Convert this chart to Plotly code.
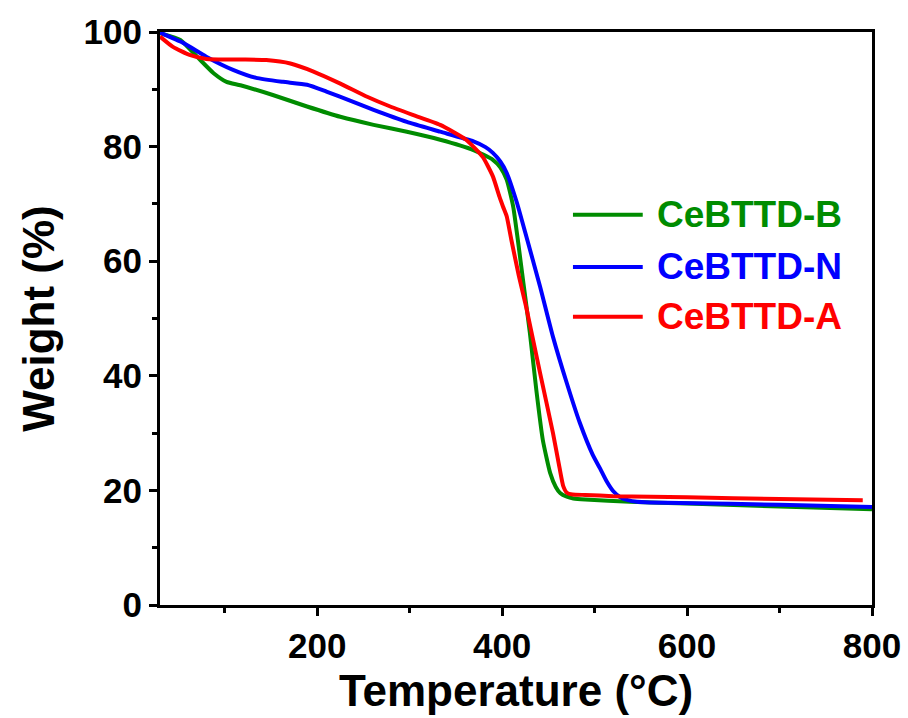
import plotly.graph_objects as go

# CeBTTD-B (green)
temp_b = [30, 52, 70, 88, 102, 117, 152, 189, 225, 261, 297, 333, 369, 390, 398, 405, 412, 417, 423, 430, 437, 444, 452, 458, 463, 470, 477, 490, 538, 600, 700, 800]
wt_b = [99.8, 98.6, 95.7, 92.8, 91.3, 90.7, 89.0, 87.0, 85.2, 83.8, 82.6, 81.2, 79.4, 77.7, 76.4, 74.2, 69.5, 63.7, 56.2, 47.5, 37.5, 28.8, 23.0, 20.6, 19.5, 18.9, 18.6, 18.4, 18.0, 17.7, 17.2, 16.7]

# CeBTTD-N (blue)
temp_n = [30, 55, 80, 109, 134, 163, 189, 210, 239, 261, 297, 333, 369, 382, 390, 398, 405, 416, 425, 441, 455, 470, 484, 498, 506, 513, 520, 527, 536, 546, 560, 592, 700, 800]
wt_n = [99.9, 98.1, 95.7, 93.4, 92.0, 91.3, 90.8, 89.6, 87.8, 86.4, 84.3, 82.6, 80.9, 79.9, 78.9, 77.4, 75.4, 70.2, 65.0, 55.6, 46.8, 38.7, 31.8, 26.2, 23.8, 21.6, 19.9, 18.9, 18.3, 18.0, 17.9, 17.8, 17.5, 17.1]

# CeBTTD-A (red)
temp_a = [30, 44, 62, 80, 117, 145, 171, 196, 225, 254, 279, 304, 333, 361, 379, 390, 397, 401, 405, 410, 418, 426, 441, 455, 462, 466, 470, 476, 490, 520, 600, 700, 790]
wt_a = [99.2, 97.4, 96.0, 95.3, 95.2, 95.1, 94.5, 93.1, 91.0, 88.7, 87.0, 85.5, 83.8, 81.2, 78.2, 74.8, 71.3, 69.5, 67.8, 63.7, 57.5, 52.0, 40.5, 30.0, 24.0, 20.8, 19.6, 19.3, 19.2, 19.0, 18.8, 18.5, 18.3]

names = ["CeBTTD-B", "CeBTTD-N", "CeBTTD-A"]
colors = ["rgb(0,140,0)", "rgb(0,0,255)", "rgb(255,0,0)"]

x_ticks = [200, 400, 600, 800]
y_ticks = [0, 20, 40, 60, 80, 100]

FONT = "Liberation Sans"

fig = go.Figure()
for t, w, n, c in zip([temp_b, temp_n, temp_a], [wt_b, wt_n, wt_a], names, colors):
    fig.add_trace(go.Scatter(x=t, y=w, mode="lines", name=n,
                             line=dict(color=c, width=4, shape="spline", smoothing=0.5),
                             showlegend=False))

# custom legend (long line samples)
leg_y = [0.681, 0.590, 0.503]
for n, c, yy in zip(names, colors, leg_y):
    fig.add_shape(type="line", xref="paper", yref="paper", x0=0.580, x1=0.678, y0=yy, y1=yy,
                  line=dict(color=c, width=4))
    fig.add_annotation(xref="paper", yref="paper", x=0.695, y=yy, text=n, showarrow=False,
                       xanchor="left", yanchor="middle",
                       font=dict(family=FONT, size=37, color=c, weight="bold"))

axis_common = dict(showline=True, linecolor="black", linewidth=3, mirror=True,
                   ticks="outside", ticklen=8, tickwidth=3, tickcolor="black",
                   showgrid=False, zeroline=False, automargin=False,
                   tickfont=dict(family=FONT, size=35, color="black", weight="bold"))

fig.update_xaxes(range=[30, 800], tickvals=x_ticks, ticktext=[str(v) for v in x_ticks],
                 minor=dict(dtick=100, tick0=0, ticks="outside", ticklen=5, tickwidth=3, tickcolor="black"),
                 title=dict(text="Temperature (°C)", standoff=12,
                            font=dict(family=FONT, size=44, color="black", weight="bold")),
                 **axis_common)
fig.update_yaxes(range=[0, 100], tickvals=y_ticks, ticktext=[str(v) for v in y_ticks],
                 minor=dict(dtick=10, tick0=0, ticks="outside", ticklen=5, tickwidth=3, tickcolor="black"),
                 title=dict(text="Weight (%)", standoff=16,
                            font=dict(family=FONT, size=44, color="black", weight="bold")),
                 **axis_common)

fig.update_layout(width=908, height=718, margin=dict(l=160, r=36, t=32, b=113),
                  plot_bgcolor="white", paper_bgcolor="white")

fig.write_html("out.html")
